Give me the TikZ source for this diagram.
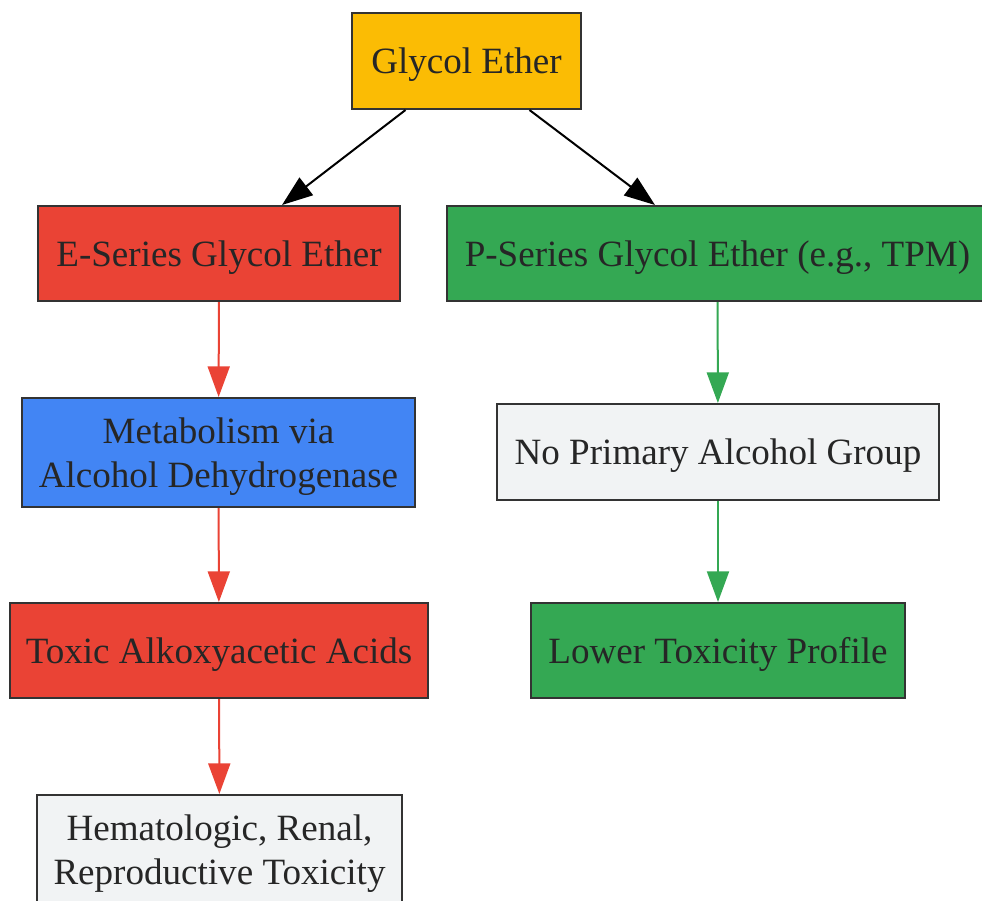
\documentclass[tikz,border=0pt]{standalone}
\usepackage{fontspec}
\setmainfont{Liberation Serif}
\usetikzlibrary{arrows.meta,calc}

\definecolor{etherorange}{HTML}{FBBC04}
\definecolor{eseriesred}{HTML}{EA4335}
\definecolor{pseriesgreen}{HTML}{34A853}
\definecolor{metabblue}{HTML}{4285F4}
\definecolor{plaingray}{HTML}{F1F3F4}
\definecolor{edgegray}{HTML}{333333}
\definecolor{textgray}{HTML}{262626}

\begin{document}
\begin{tikzpicture}[x=0.75pt,y=-0.75pt,
  box/.style={draw=edgegray, line width=1.5pt, inner sep=0pt, align=center,
    text=textgray, text depth=-1pt, font=\fontsize{27.8}{33}\selectfont},
  flow/.style={line width=1.5pt, -{Triangle[length=23pt,width=16.5pt]}}]

\useasboundingbox (0,0) rectangle (982,900);

% The boxes
\node[box, fill=etherorange, minimum width=229*0.75pt, minimum height=96*0.75pt]
  (glycol) at (466.5,61) {Glycol Ether};
\node[box, fill=eseriesred, minimum width=362*0.75pt, minimum height=95*0.75pt]
  (eseries) at (219,253.5) {E-Series Glycol Ether};
\node[box, fill=pseriesgreen, minimum width=541*0.75pt, minimum height=95*0.75pt]
  (pseries) at (717.5,253.5) {P-Series Glycol Ether (e.g., TPM)};
\node[box, fill=metabblue, minimum width=393*0.75pt, minimum height=109*0.75pt]
  (metab) at (218.5,452.5) {Metabolism via\\Alcohol Dehydrogenase};
\node[box, fill=plaingray, minimum width=442*0.75pt, minimum height=96*0.75pt]
  (noprimary) at (718,452) {No Primary Alcohol Group};
\node[box, fill=eseriesred, minimum width=418*0.75pt, minimum height=95*0.75pt]
  (toxic) at (219,650.5) {Toxic Alkoxyacetic Acids};
\node[box, fill=pseriesgreen, minimum width=374*0.75pt, minimum height=95*0.75pt]
  (lower) at (718,650.5) {Lower Toxicity Profile};
\node[box, fill=plaingray, minimum width=365*0.75pt, minimum height=109*0.75pt]
  (hemat) at (219.5,849.5) {Hematologic, Renal,\\Reproductive Toxicity};

% The arrows
\draw[flow] ($(glycol.south)+(-61,0)$) -- ($(eseries.north)+(63,0)$);
\draw[flow] ($(glycol.south)+(63,0)$) -- ($(pseries.north)+(-62.5,0)$);

\foreach \from/\to in {eseries/metab, metab/toxic, toxic/hemat}{
  \draw[flow, eseriesred] (\from) -- (\to);
}
\foreach \from/\to in {pseries/noprimary, noprimary/lower}{
  \draw[flow, pseriesgreen] (\from) -- (\to);
}

\end{tikzpicture}
\end{document}
